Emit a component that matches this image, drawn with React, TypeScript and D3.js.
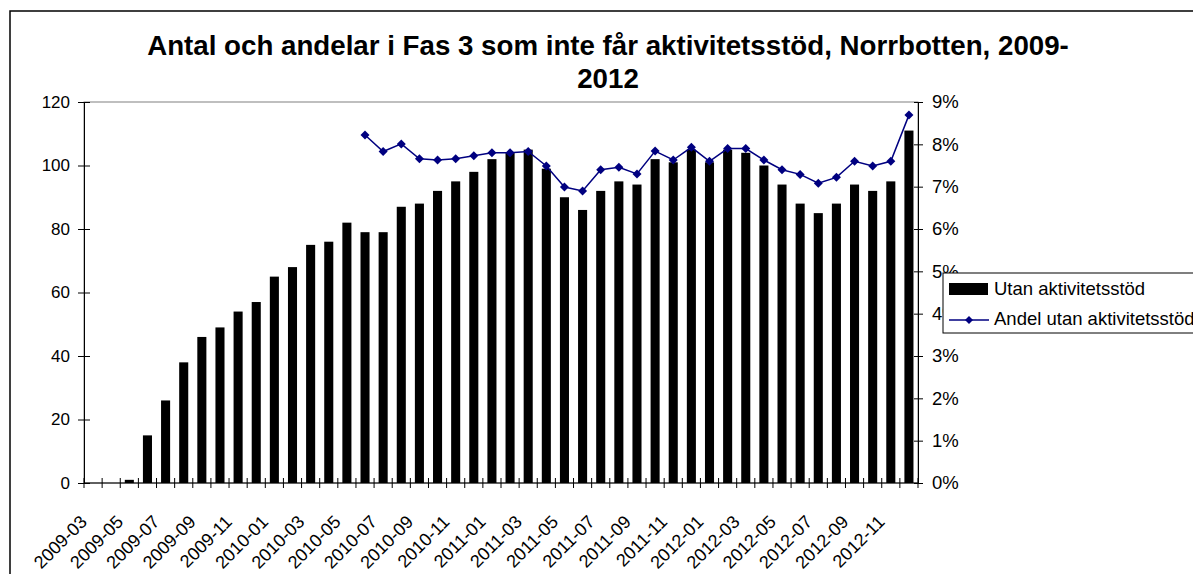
import React, { useRef, useEffect } from "react";
import * as d3 from "d3";

// månader (x-axel)
const months = [
  "2009-03", "2009-04", "2009-05", "2009-06", "2009-07", "2009-08", "2009-09", "2009-10",
  "2009-11", "2009-12", "2010-01", "2010-02", "2010-03", "2010-04", "2010-05", "2010-06",
  "2010-07", "2010-08", "2010-09", "2010-10", "2010-11", "2010-12", "2011-01", "2011-02",
  "2011-03", "2011-04", "2011-05", "2011-06", "2011-07", "2011-08", "2011-09", "2011-10",
  "2011-11", "2011-12", "2012-01", "2012-02", "2012-03", "2012-04", "2012-05", "2012-06",
  "2012-07", "2012-08", "2012-09", "2012-10", "2012-11", "2012-12",
];

// antal utan aktivitetsstöd (staplar)
const utan = [
  0, 0, 1, 15, 26, 38, 46, 49, 54, 57, 65, 68, 75, 76, 82, 79,
  79, 87, 88, 92, 95, 98, 102, 104, 105, 99, 90, 86, 92, 95, 94, 102,
  101, 105, 101, 105, 104, 100, 94, 88, 85, 88, 94, 92, 95, 111,
];

// andel utan aktivitetsstöd (linje), null = saknas
const andel: (number | null)[] = [
  null, null, null, null, null, null, null, null, null, null, null, null, null, null, null,
  0.0822, 0.0783, 0.0801, 0.0766, 0.0763, 0.0766, 0.0773, 0.078, 0.078, 0.0783, 0.0749,
  0.0699, 0.069, 0.074, 0.0746, 0.073, 0.0784, 0.0763, 0.0793, 0.076, 0.079, 0.079,
  0.0763, 0.074, 0.0729, 0.0708, 0.0722, 0.076, 0.0749, 0.076, 0.0869,
];

const leftTicks = [0, 20, 40, 60, 80, 100, 120];
const rightTicks = [0, 0.01, 0.02, 0.03, 0.04, 0.05, 0.06, 0.07, 0.08, 0.09];

const title1 = "Antal och andelar i Fas 3 som inte får aktivitetsstöd, Norrbotten, 2009-";
const title2 = "2012";
const legendBar = "Utan aktivitetsstöd";
const legendLine = "Andel utan aktivitetsstöd";

const W = 1193;
const H = 574;
const FONT = "'Liberation Sans', Arial, sans-serif";
const NAVY = "#000080";

const App = () => {
  const svgRef = useRef<SVGSVGElement>(null);

  useEffect(() => {
    const svg = d3.select(svgRef.current);
    svg.selectAll("*").remove();

    const plot = { left: 84, right: 918, top: 102, bottom: 483 };

    const x = d3.scaleBand().domain(months).range([plot.left, plot.right]).padding(0);
    const yL = d3.scaleLinear().domain([0, 120]).range([plot.bottom, plot.top]);
    const yR = d3.scaleLinear().domain([0, 0.09]).range([plot.bottom, plot.top]);

    // ram runt diagrammet
    svg.append("rect")
      .attr("x", 10).attr("y", 11)
      .attr("width", W + 20).attr("height", H + 20)
      .attr("fill", "white").attr("stroke", "black").attr("stroke-width", 1.5);

    // titel
    const t = svg.append("text")
      .attr("text-anchor", "middle")
      .attr("font-family", FONT).attr("font-weight", "bold").attr("font-size", 27.7);
    t.append("tspan").attr("x", 608).attr("y", 55).text(title1);
    t.append("tspan").attr("x", 608).attr("y", 88).text(title2);

    // plotytans kant
    svg.append("rect")
      .attr("x", plot.left).attr("y", plot.top)
      .attr("width", plot.right - plot.left).attr("height", plot.bottom - plot.top)
      .attr("fill", "none").attr("stroke", "#808080").attr("stroke-width", 1);

    // staplar
    const bw = x.bandwidth() * 0.5;
    svg.append("g").selectAll("rect")
      .data(utan)
      .enter()
      .append("rect")
      .attr("x", (d, i) => x(months[i])! + x.bandwidth() / 2 - bw / 2)
      .attr("y", d => yL(d))
      .attr("width", bw)
      .attr("height", d => yL(0) - yL(d))
      .attr("fill", "black");

    // vänster axel
    const axL = svg.append("g")
      .attr("transform", `translate(${plot.left},0)`)
      .call(d3.axisLeft(yL).tickValues(leftTicks).tickSize(6).tickSizeOuter(0));
    axL.select(".domain").attr("stroke", "black");
    axL.selectAll(".tick line").attr("x1", 6).attr("stroke", "black");
    axL.selectAll(".tick text")
      .attr("x", -14)
      .attr("font-family", FONT).attr("font-size", 17).attr("fill", "black");

    // höger axel
    const axR = svg.append("g")
      .attr("transform", `translate(${plot.right},0)`)
      .call(d3.axisRight(yR).tickValues(rightTicks).tickSize(5).tickSizeOuter(0)
        .tickFormat(d3.format(".0%")));
    axR.select(".domain").attr("stroke", "black");
    axR.selectAll(".tick line").attr("x1", -4).attr("stroke", "black");
    axR.selectAll(".tick text")
      .attr("x", 14)
      .attr("font-family", FONT).attr("font-size", 18.5).attr("fill", "black");

    // x-axel
    const gx = svg.append("g");
    gx.append("line")
      .attr("x1", plot.left).attr("x2", plot.right)
      .attr("y1", plot.bottom).attr("y2", plot.bottom)
      .attr("stroke", "black");
    const edges = months.map(m => x(m)!).concat([plot.right]);
    gx.selectAll("line.tk")
      .data(edges)
      .enter()
      .append("line")
      .attr("class", "tk")
      .attr("x1", d => d).attr("x2", d => d)
      .attr("y1", plot.bottom - 5).attr("y2", plot.bottom + 5)
      .attr("stroke", "black");
    gx.selectAll("text")
      .data(months.filter((m, i) => i % 2 === 0))
      .enter()
      .append("text")
      .attr("transform", d => `translate(${x(d)! + x.bandwidth() / 2 - 5},${plot.bottom + 40}) rotate(-45)`)
      .attr("text-anchor", "end")
      .attr("font-family", FONT).attr("font-size", 18).attr("fill", "black")
      .text(d => d);

    // linje med romber
    const line = d3.line<number | null>()
      .defined(d => d !== null)
      .x((d, i) => x(months[i])! + x.bandwidth() / 2)
      .y(d => yR(d as number));
    svg.append("path")
      .datum(andel)
      .attr("d", line)
      .attr("fill", "none").attr("stroke", NAVY).attr("stroke-width", 1.5);

    const diamond = (s: number) => `M0,${-s}L${s},0L0,${s}L${-s},0Z`;
    svg.append("g").selectAll("path")
      .data(andel.map((v, i) => ({ v, m: months[i] })).filter(d => d.v !== null))
      .enter()
      .append("path")
      .attr("transform", d => `translate(${x(d.m)! + x.bandwidth() / 2},${yR(d.v as number)})`)
      .attr("d", diamond(4.5))
      .attr("fill", NAVY);

    // legend
    const lg = svg.append("g");
    lg.append("rect")
      .attr("x", 943).attr("y", 273).attr("width", 300).attr("height", 60)
      .attr("fill", "white").attr("stroke", "black").attr("stroke-width", 1);
    lg.append("rect")
      .attr("x", 949).attr("y", 283).attr("width", 39).attr("height", 12)
      .attr("fill", "black");
    lg.append("text")
      .attr("x", 994).attr("y", 295)
      .attr("font-family", FONT).attr("font-size", 18.5).text(legendBar);
    lg.append("line")
      .attr("x1", 949).attr("x2", 989).attr("y1", 320).attr("y2", 320)
      .attr("stroke", NAVY).attr("stroke-width", 1.5);
    lg.append("path")
      .attr("transform", "translate(969,320)")
      .attr("d", diamond(4))
      .attr("fill", NAVY);
    lg.append("text")
      .attr("x", 994).attr("y", 325)
      .attr("font-family", FONT).attr("font-size", 18.5).text(legendLine);
  }, []);

  return (
    <svg
      ref={svgRef}
      width={W}
      height={H}
      style={{ position: "fixed", left: 0, top: 0, background: "white" }}
    />
  );
};

export default App;
